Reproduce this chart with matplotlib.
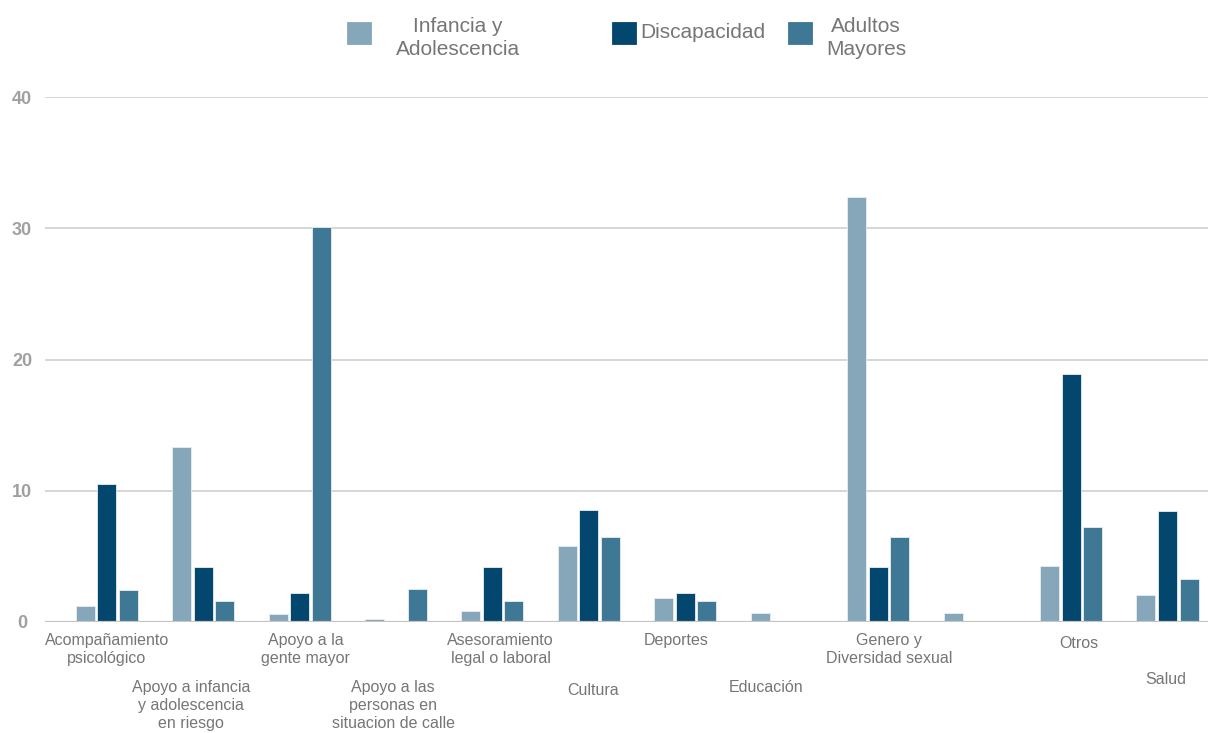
import matplotlib
matplotlib.use("Agg")
import matplotlib.pyplot as plt
import matplotlib.transforms as mtransforms
from matplotlib.patches import Rectangle
import numpy as np

plt.rcParams['font.family'] = ['Liberation Sans', 'DejaVu Sans']

# ---- data ----
categories = [
    "Acompañamiento\npsicológico",
    "Apoyo a infancia\ny adolescencia\nen riesgo",
    "Apoyo a la\ngente mayor",
    "Apoyo a las\npersonas en\nsituacion de calle",
    "Asesoramiento\nlegal o laboral",
    "Cultura",
    "Deportes",
    "Educación",
    "Genero y\nDiversidad sexual",
    "",
    "Otros",
    "Salud",
]
series_names = ["Infancia y\nAdolescencia", "Discapacidad", "Adultos\nMayores"]
infancia = [1.2, 13.3, 0.6, 0.25, 0.85, 5.8, 1.8, 0.7, 32.4, 0.7, 4.25, 2.05]
discapacidad = [10.5, 4.2, 2.2, 0.0, 4.2, 8.5, 2.2, 0.0, 4.2, 0.0, 18.9, 8.45]
adultos = [2.45, 1.6, 30.1, 2.5, 1.6, 6.45, 1.6, 0.0, 6.45, 0.0, 7.25, 3.3]
yticks = [0, 10, 20, 30, 40]

colors = ["#86a7ba", "#03466e", "#3e7895"]
text_grey = "#767676"

# label layout: horizontal shift and distance below the axis (pixels)
label_dx = [0, -12, 6, -3, 8, 4, -9, -16, 11, 0, 8, -2]
label_dy = [11, 58, 11, 58, 11, 61, 11, 58, 11, 58, 14, 50]

W, H, DPI = 1208, 733, 100
fig = plt.figure(figsize=(W / DPI, H / DPI), dpi=DPI)
ax = fig.add_axes([45 / W, 111 / H, (W - 45) / W, (622 - 97) / H])

x = np.arange(len(categories))
step = 0.223
width = 0.197
for i, (vals, c) in enumerate(zip([infancia, discapacidad, adultos], colors)):
    ax.bar(x + (i - 1) * step, vals, width=width, color=c,
           edgecolor="#e8eef2", linewidth=0.6, zorder=3)

ax.set_xlim(-0.64, 11.42)
ax.set_ylim(0, 40)
ax.set_yticks(yticks)
ax.set_xticks([])
for y in yticks[1:]:
    ax.axhline(y, color="#d0d0d0", linewidth=1.2, zorder=1)
ax.axhline(0, color="#c4c4c4", linewidth=1.6, zorder=4)
for s in ax.spines.values():
    s.set_visible(False)
ax.tick_params(axis="y", length=0, pad=16.5, labelsize=13, labelcolor="#a0a0a0")
for t in ax.get_yticklabels():
    t.set_horizontalalignment("center")
    t.set_fontweight("bold")

# category labels, staggered in two rows
for i, lab in enumerate(categories):
    if not lab:
        continue
    off = mtransforms.offset_copy(ax.get_xaxis_transform(), fig=fig,
                                  x=label_dx[i] * 72 / DPI,
                                  y=-label_dy[i] * 72 / DPI, units="points")
    ax.text(x[i], 0, lab, transform=off, ha="center", va="top",
            fontsize=11.5, color=text_grey, linespacing=1.25)

# legend
def fig_rect(x0, y0, w, h, color):
    fig.patches.append(Rectangle((x0 / W, 1 - (y0 + h) / H), w / W, h / H,
                                 transform=fig.transFigure, color=color,
                                 edgecolor="#dde5ea", linewidth=0.6))

fig_rect(347, 22, 24, 22, colors[0])
fig.text(458 / W, 1 - 38 / H, series_names[0], ha="center", va="center",
         fontsize=15, color=text_grey, linespacing=1.3)
fig_rect(612, 22, 24, 22, colors[1])
fig.text(640 / W, 1 - 33 / H, series_names[1], ha="left", va="center",
         fontsize=15, color=text_grey)
fig_rect(788, 22, 24, 22, colors[2])
fig.text(866 / W, 1 - 38 / H, series_names[2], ha="center", va="center",
         fontsize=15, color=text_grey, linespacing=1.3)

fig.savefig("out.png", dpi=DPI, facecolor="white")
